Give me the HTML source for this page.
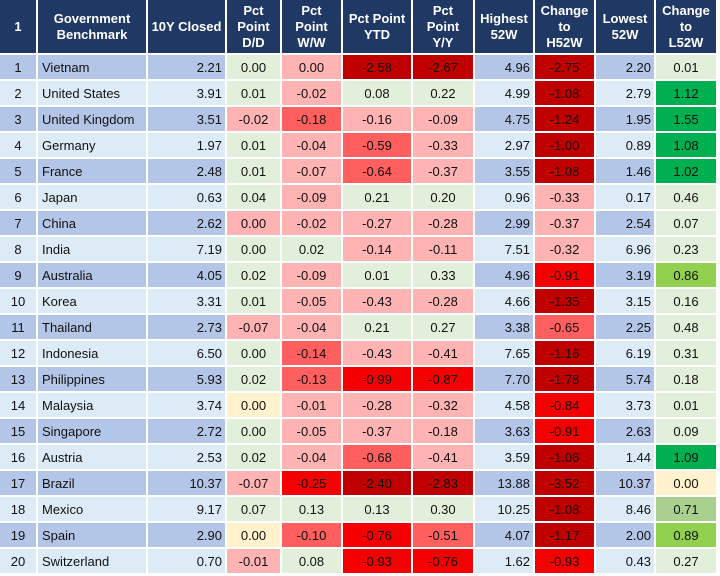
<!DOCTYPE html>
<html><head><meta charset="utf-8">
<style>
body{margin:0;background:#fff;width:720px;height:576px;overflow:hidden;position:relative;font-family:"Liberation Sans",Arial,sans-serif;}
.c{position:absolute;box-sizing:border-box;font-size:13px;color:#111;display:flex;align-items:center;justify-content:center;white-space:nowrap;}
.h{background:#203864;color:#fff;font-weight:bold;text-align:center;line-height:16px;white-space:normal;}
.l{justify-content:flex-start;padding-left:4px;}
.rt{justify-content:flex-end;padding-right:3px;}
</style></head><body>
<script>
const headers=["1","Government<br>Benchmark","10Y Closed","Pct<br>Point<br>D/D","Pct<br>Point<br>W/W","Pct Point<br>YTD","Pct<br>Point<br>Y/Y","Highest<br>52W","Change<br>to<br>H52W","Lowest<br>52W","Change<br>to<br>L52W"];
const countries=["Vietnam","United States","United Kingdom","Germany","France","Japan","China","India","Australia","Korea","Thailand","Indonesia","Philippines","Malaysia","Singapore","Austria","Brazil","Mexico","Spain","Switzerland"];
const closed=["2.21","3.91","3.51","1.97","2.48","0.63","2.62","7.19","4.05","3.31","2.73","6.50","5.93","3.74","2.72","2.53","10.37","9.17","2.90","0.70"];
const dd=["0.00","0.01","-0.02","0.01","0.01","0.04","0.00","0.00","0.02","0.01","-0.07","0.00","0.02","0.00","0.00","0.02","-0.07","0.07","0.00","-0.01"];
const ww=["0.00","-0.02","-0.18","-0.04","-0.07","-0.09","-0.02","0.02","-0.09","-0.05","-0.04","-0.14","-0.13","-0.01","-0.05","-0.04","-0.25","0.13","-0.10","0.08"];
const ytd=["-2.58","0.08","-0.16","-0.59","-0.64","0.21","-0.27","-0.14","0.01","-0.43","0.21","-0.43","-0.99","-0.28","-0.37","-0.68","-2.40","0.13","-0.76","-0.93"];
const yy=["-2.67","0.22","-0.09","-0.33","-0.37","0.20","-0.28","-0.11","0.33","-0.28","0.27","-0.41","-0.87","-0.32","-0.18","-0.41","-2.83","0.30","-0.51","-0.76"];
const high=["4.96","4.99","4.75","2.97","3.55","0.96","2.99","7.51","4.96","4.66","3.38","7.65","7.70","4.58","3.63","3.59","13.88","10.25","4.07","1.62"];
const chH=["-2.75","-1.08","-1.24","-1.00","-1.08","-0.33","-0.37","-0.32","-0.91","-1.35","-0.65","-1.16","-1.78","-0.84","-0.91","-1.06","-3.52","-1.08","-1.17","-0.93"];
const low=["2.20","2.79","1.95","0.89","1.46","0.17","2.54","6.96","3.19","3.15","2.25","6.19","5.74","3.73","2.63","1.44","10.37","8.46","2.00","0.43"];
const chL=["0.01","1.12","1.55","1.08","1.02","0.46","0.07","0.23","0.86","0.16","0.48","0.31","0.18","0.01","0.09","1.09","0.00","0.71","0.89","0.27"];
const colorsDD="gggggggpggpgg ygggpgyp".replace(/ /g,'');
const shade={
 3:"gpggggpggg pgg ygg pgyp",
 4:"ppRpppppppp rrppppRgrg",
 5:"dgprrgppgpgpRppr dgRR",
 6:"dgpppgppgpgpRppp dgrR",
 8:"dddddpppRdr ddRRd ddR",
 10:"gGGGGgggmggggggG yamg"
};
const cmap={g:"#e2efda",p:"#ffb3b3",r:"#ff5f5f",R:"#f50000",d:"#c00000",G:"#00b050",m:"#92d050",a:"#a9d08e",y:"#fff2cc"};
function clr(i,ch){
 // explicit per-row colors
 const t={
  3:["g","g","p","g","g","g","p","g","g","g","p","g","g","y","g","g","p","g","y","p"],
  4:["p","p","r","p","p","p","p","g","p","p","p","r","r","p","p","p","R","g","r","g"],
  5:["d","g","p","r","r","g","p","p","g","p","g","p","R","p","p","r","d","g","R","R"],
  6:["d","g","p","p","p","g","p","p","g","p","g","p","R","p","p","p","d","g","r","R"],
  8:["d","d","d","d","d","p","p","p","R","d","r","d","d","R","R","d","d","d","d","R"],
  10:["g","G","G","G","G","g","g","g","m","g","g","g","g","g","g","G","y","a","m","g"]
 };
 return cmap[t[ch][i]];
}
const edges=[0,38,148,227,282,343,413,475,535,596,656,718];
const names=["rank","country","closed","change-dd","change-ww","change-ytd","change-yy","high-52w","change-h52w","low-52w","change-l52w"];
function cell(x0,x1,y,h,html,bg,cls,name){
 const d=document.createElement('div');
 d.className='c '+cls;
 d.style.left=x0+'px';d.style.top=y+'px';d.style.width=(x1-x0-2)+'px';d.style.height=h+'px';
 if(bg)d.style.background=bg;
 d.innerHTML=html;
 
 
 document.body.appendChild(d);
}
for(let j=0;j<11;j++){cell(edges[j],edges[j+1],0,53,headers[j],null,'h','header-'+names[j]);}
const cols=[null,countries,closed,dd,ww,ytd,yy,high,chH,low,chL];
for(let i=0;i<20;i++){
 const y=55+i*26;
 const base=i%2===0?"#b4c6e7":"#ddebf7";
 for(let j=0;j<11;j++){
  let txt=j===0?String(i+1):cols[j][i];
  let bg=base,cls='';
  if(j===1)cls='l';
  if(j===2||j===7||j===9)cls='rt';
  if([3,4,5,6,8,10].includes(j))bg=clr(i,j);
  cell(edges[j],edges[j+1],y,24,txt,bg,cls,'cell-'+names[j]);
 }
}
</script>
</body></html>
